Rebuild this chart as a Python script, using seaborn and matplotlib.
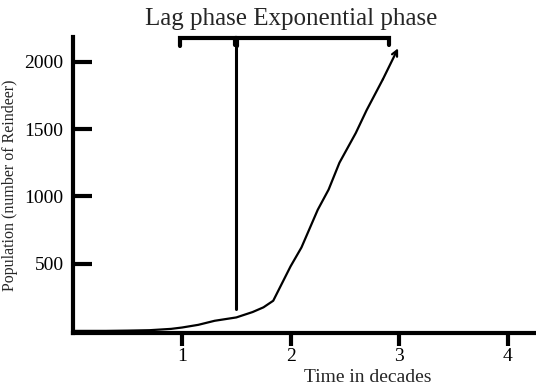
import numpy as np
import pandas as pd
import seaborn as sns
from matplotlib import pyplot as plt

# Werte (Zeit in Jahrzehnten, Population)
time_decades = [0.0, 0.3, 0.5, 0.7, 0.9, 1.0, 1.15, 1.3, 1.5, 1.65, 1.75, 1.84,
                2.0, 2.1, 2.25, 2.35, 2.45, 2.6, 2.7, 2.85, 2.99]
population = [0, 0, 2, 5, 15, 25, 45, 75, 100, 140, 175, 224,
              480, 620, 900, 1050, 1250, 1470, 1640, 1870, 2100]

x_ticks = [1, 2, 3, 4]
y_ticks = [500, 1000, 1500, 2000]

title_text = "Lag phase Exponential phase"
x_label = "Time in decades"
y_label = "Population (number of Reindeer)"

# Klammern und Trennlinie (Annotation, Datenkoordinaten)
phase_split = 1.5
split_line_y = [164, 2170]
lag_bracket_x = [0.98, 0.98, 1.49, 1.49]
exp_bracket_x = [1.51, 1.51, 2.91, 2.91]
bracket_y = [2115, 2177, 2177, 2125]

df = pd.DataFrame({"time": time_decades, "pop": population})

sns.set_style("ticks")
plt.rcParams['font.family'] = ['Liberation Serif', 'DejaVu Serif']

fig = plt.figure(figsize=(5.36, 3.88), dpi=100)
ax = fig.add_axes([0.137, 0.142, 0.863, 0.763])

sns.lineplot(data=df.iloc[:-1], x="time", y="pop", color="black", linewidth=1.6, ax=ax)
# Pfeil am Ende der Kurve
ax.annotate("", xy=(time_decades[-1], population[-1]),
            xytext=(time_decades[-2], population[-2]),
            arrowprops=dict(arrowstyle="->", color="black", lw=1.6, mutation_scale=10,
                            shrinkA=0, shrinkB=0))

ax.plot([phase_split, phase_split], split_line_y, color="black", lw=2.2, clip_on=False)
ax.plot(lag_bracket_x, bracket_y, color="black", lw=3, clip_on=False, solid_joinstyle="miter")
ax.plot(exp_bracket_x, bracket_y, color="black", lw=3, clip_on=False, solid_joinstyle="miter")

ax.set_xlim(0, 4.26)
ax.set_ylim(-15, 2185)
ax.set_xticks(x_ticks)
ax.set_yticks(y_ticks)

for side in ["top", "right"]:
    ax.spines[side].set_visible(False)
for side in ["left", "bottom"]:
    ax.spines[side].set_linewidth(3)
    ax.spines[side].set_color("black")

ax.tick_params(axis="y", direction="in", length=14, width=3, pad=7, labelsize=14, colors="black")
ax.tick_params(axis="x", direction="out", length=9, width=3, pad=2, labelsize=14, colors="black")

ax.set_xlabel(x_label, fontsize=14, x=0.637, labelpad=3)
ax.set_ylabel(y_label, fontsize=11.5, labelpad=5)
ax.text(2.01, 2235, title_text, fontsize=18, ha="center", va="bottom", clip_on=False)

fig.savefig("out.png", dpi=100)
